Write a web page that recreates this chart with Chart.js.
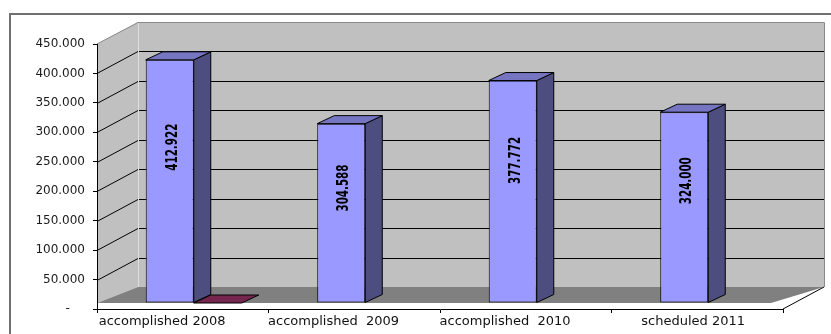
<!DOCTYPE html>
<html>
<head>
<meta charset="utf-8">
<script src="https://cdn.jsdelivr.net/npm/chart.js@4"></script>
<style>
    html, body { margin: 0; padding: 0; background: #fff; }
</style>
</head>
<body>
<canvas id="chart" width="831" height="334"></canvas>
<script>
const categories = ['accomplished 2008', 'accomplished  2009', 'accomplished  2010', 'scheduled 2011'];
const planValues = [412922, 304588, 377772, 324000];
const otherValues = [0, null, null, null];
const yMax = 450000;
const yStep = 50000;

// 3D look: offsets of back wall, bar front face and bar depth
const WALL_DX = 41, WALL_DY = 22;
const BAR_DX = 11, BAR_DY = 6;
const SIDE_DX = 17, SIDE_DY = 8;

function fmt(v) {
    return String(v).replace(/\B(?=(\d{3})+(?!\d))/g, '.');
}

const threeD = {
    id: 'threeD',
    beforeDraw(chart) {
        const { ctx, chartArea: a, scales: { y } } = chart;
        const bl = a.left + WALL_DX, br = a.right + WALL_DX;
        const bt = a.top - WALL_DY, bb = a.bottom - WALL_DY;
        const floorFront = a.bottom - BAR_DY;
        ctx.save();

        // outer frame
        ctx.strokeStyle = '#707070';
        ctx.lineWidth = 2;
        ctx.strokeRect(10, 14, 900, 400);

        // back wall
        ctx.fillStyle = '#c0c0c0';
        ctx.fillRect(bl, bt, br - bl, bb - bt);

        // side wall
        ctx.beginPath();
        ctx.moveTo(a.left, a.top);
        ctx.lineTo(bl, bt);
        ctx.lineTo(bl, bb);
        ctx.lineTo(a.left, floorFront);
        ctx.closePath();
        ctx.fill();

        // floor
        ctx.fillStyle = '#808080';
        ctx.beginPath();
        ctx.moveTo(a.left, floorFront);
        ctx.lineTo(bl, bb);
        ctx.lineTo(br, bb);
        ctx.lineTo(a.right - 12, floorFront);
        ctx.closePath();
        ctx.fill();

        // gridlines on side and back wall
        ctx.strokeStyle = '#000';
        ctx.lineWidth = 1;
        for (let v = yStep; v < yMax; v += yStep) {
            const py = Math.round(y.getPixelForValue(v)) + 0.5;
            ctx.beginPath();
            ctx.moveTo(a.left, py);
            ctx.lineTo(bl, py - WALL_DY);
            ctx.lineTo(br, py - WALL_DY);
            ctx.stroke();
        }

        // wall edges
        ctx.strokeStyle = '#8a8a8a';
        ctx.beginPath();
        ctx.moveTo(a.left, a.top);
        ctx.lineTo(bl, bt + 0.5);
        ctx.lineTo(br + 0.5, bt + 0.5);
        ctx.lineTo(br + 0.5, bb);
        ctx.stroke();
        ctx.strokeStyle = '#dedede';
        ctx.beginPath();
        ctx.moveTo(bl + 0.5, bt + 1);
        ctx.lineTo(bl + 0.5, bb);
        ctx.stroke();

        // front right edge of the floor
        ctx.strokeStyle = '#000';
        ctx.beginPath();
        ctx.moveTo(a.right, a.bottom);
        ctx.lineTo(br, bb);
        ctx.stroke();
        ctx.restore();
    },
    beforeDatasetsDraw(chart) {
        chart.ctx.save();
        chart.ctx.translate(BAR_DX, -BAR_DY);
    },
    afterDatasetsDraw(chart) {
        const ctx = chart.ctx;
        ctx.restore();
        ctx.save();
        ctx.lineWidth = 1;
        ctx.strokeStyle = '#000';
        chart.data.datasets.forEach((ds, di) => {
            const meta = chart.getDatasetMeta(di);
            meta.data.forEach((bar, i) => {
                if (ds.data[i] === null) return;
                const { x, y, base, width } = bar.getProps(['x', 'y', 'base', 'width'], true);
                const L = x - width / 2 + BAR_DX, R = x + width / 2 + BAR_DX;
                const T = y - BAR_DY, B = base - BAR_DY;

                if (B - T > 0.5) {
                    ctx.fillStyle = ds.sideColor;
                    ctx.beginPath();
                    ctx.moveTo(R, T);
                    ctx.lineTo(R + SIDE_DX, T - SIDE_DY);
                    ctx.lineTo(R + SIDE_DX, B - SIDE_DY);
                    ctx.lineTo(R, B);
                    ctx.closePath();
                    ctx.fill();
                    ctx.stroke();
                }

                ctx.fillStyle = ds.topColor;
                ctx.beginPath();
                ctx.moveTo(L, T);
                ctx.lineTo(L + SIDE_DX, T - SIDE_DY);
                ctx.lineTo(R + SIDE_DX, T - SIDE_DY);
                ctx.lineTo(R, T);
                ctx.closePath();
                ctx.fill();
                ctx.stroke();

                if (di === 0) {
                    // value label, rotated
                    const txt = fmt(ds.data[i]);
                    ctx.save();
                    ctx.translate((L + R) / 2 + 3, T + 0.36 * (B - T));
                    ctx.rotate(-Math.PI / 2);
                    ctx.font = 'bold 16px "Liberation Sans Narrow", "Arial Narrow", "DejaVu Sans Condensed", sans-serif';
                    const w = ctx.measureText(txt).width;
                    ctx.scale(47 / w, 1);
                    ctx.textAlign = 'center';
                    ctx.textBaseline = 'middle';
                    ctx.fillStyle = '#000';
                    ctx.fillText(txt, 0, 0);
                    ctx.restore();
                }
            });
        });
        ctx.restore();
    }
};

new Chart(document.getElementById('chart'), {
    type: 'bar',
    data: {
        labels: categories,
        datasets: [{
            data: planValues,
            backgroundColor: '#9999ff',
            borderColor: '#000',
            borderWidth: 1,
            borderSkipped: false,
            sideColor: '#4d4d80',
            topColor: '#7575c2'
        }, {
            data: otherValues,
            backgroundColor: '#993366',
            borderWidth: 0,
            sideColor: '#4d1a33',
            topColor: '#74264f'
        }]
    },
    options: {
        responsive: false,
        animation: false,
        categoryPercentage: 0.56,
        barPercentage: 1,
        layout: { padding: { top: 44, right: 48, bottom: 0, left: 0 } },
        plugins: {
            legend: { display: false },
            tooltip: { enabled: false }
        },
        scales: {
            x: {
                afterFit: s => { s.height = 25; },
                grid: { drawOnChartArea: false, color: '#000', tickLength: 4, offset: true },
                border: { color: '#000', width: 1 },
                ticks: {
                    color: '#111',
                    font: { family: '"DejaVu Sans"', size: 13 },
                    padding: 1,
                    maxRotation: 0,
                    autoSkip: false,
                    // the source labels carry trailing blanks, so they sit left of centre
                    callback: (v, i) => categories[i] + (i < 3 ? '          ' : '  ')
                }
            },
            y: {
                min: 0,
                max: yMax,
                afterFit: s => { s.width = 97; },
                grid: { drawOnChartArea: false, color: '#000', tickLength: 4 },
                border: { color: '#000', width: 1 },
                ticks: {
                    stepSize: yStep,
                    color: '#1b1b1b',
                    font: { family: '"DejaVu Sans"', size: 12 },
                    padding: 8,
                    callback: v => v === 0 ? '-    ' : fmt(v)
                }
            }
        }
    },
    plugins: [threeD]
});
</script>
</body>
</html>
